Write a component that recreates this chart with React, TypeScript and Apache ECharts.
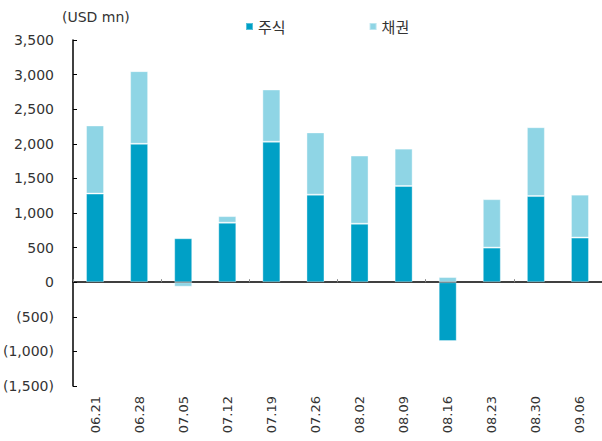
import React, { useEffect, useRef } from "react";
import * as echarts from "echarts";

const categories = ["06.21", "06.28", "07.05", "07.12", "07.19", "07.26", "08.02", "08.09", "08.16", "08.23", "08.30", "09.06"];
const stocks = [1280, 2000, 635, 860, 2030, 1265, 845, 1390, -850, 500, 1245, 645];
const bonds = [985, 1050, -65, 95, 755, 900, 985, 540, 75, 700, 995, 620];
const seriesNames = ["주식", "채권"];
const unitLabel = "(USD mn)";

const fmt = (v: number) => {
  const s = Math.abs(v).toLocaleString("en-US");
  return v < 0 ? `(${s})` : s;
};

export default function App() {
  const ref = useRef<HTMLDivElement>(null);
  useEffect(() => {
    if (!ref.current) return;
    document.body.style.margin = "0";
    const chart = echarts.init(ref.current, null, { renderer: "svg" });
    const font = "DejaVu Sans";
    chart.setOption({
      animation: false,
      backgroundColor: "#ffffff",
      textStyle: { fontFamily: font },
      grid: { left: 73, top: 40, bottom: 55, right: -4, containLabel: false },
      graphic: [
        {
          type: "text",
          left: 62,
          top: 10,
          style: { text: unitLabel, fontSize: 14, fill: "#333", fontFamily: font },
        },
      ],
      legend: {
        left: 240,
        top: 14,
        itemWidth: 7,
        itemHeight: 7,
        itemGap: 83,
        icon: "rect",
        textStyle: { fontSize: 15, color: "#333", fontFamily: "Noto Sans CJK KR" },
        data: seriesNames,
      },
      xAxis: [
        {
          type: "category",
          data: categories,
          position: "bottom",
          axisLine: { show: false, onZero: false },
          axisTick: { show: false },
          axisLabel: { rotate: 90, margin: 10, fontSize: 13, color: "#333", fontFamily: font },
        },
        {
          type: "category",
          data: categories,
          position: "bottom",
          axisLine: { show: true, onZero: true, lineStyle: { color: "#000", width: 1.5 } },
          axisTick: { show: true, inside: true, length: 3, lineStyle: { color: "#888" } },
          axisLabel: { show: false },
        },
      ],
      yAxis: {
        type: "value",
        min: -1500,
        max: 3500,
        interval: 500,
        splitLine: { show: false },
        axisLine: { show: true, lineStyle: { color: "#000", width: 1.5 } },
        axisTick: { show: true, inside: true, length: 4, lineStyle: { color: "#000" } },
        axisLabel: { formatter: fmt, fontSize: 14, color: "#333", margin: 19, fontFamily: font },
      },
      series: [
        {
          name: seriesNames[0],
          type: "bar",
          stack: "total",
          data: stocks,
          barWidth: 18,
          itemStyle: { color: "#00A0C6", borderColor: "rgba(255,255,255,0.35)", borderWidth: 1 },
        },
        {
          name: seriesNames[1],
          type: "bar",
          stack: "total",
          data: bonds,
          barWidth: 18,
          itemStyle: { color: "#8FD5E5", borderColor: "rgba(255,255,255,0.4)", borderWidth: 1 },
        },
      ],
    });
    return () => chart.dispose();
  }, []);
  return <div ref={ref} style={{ width: 602, height: 441 }} />;
}
